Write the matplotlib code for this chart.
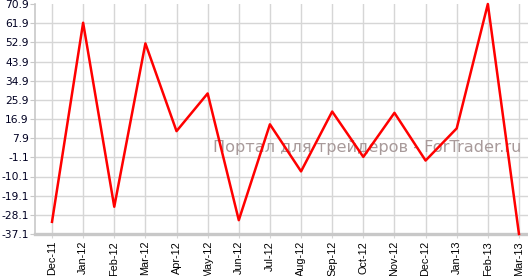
import matplotlib
matplotlib.use("Agg")
import matplotlib.pyplot as plt

categories = ["Dec-11", "Jan-12", "Feb-12", "Mar-12", "Apr-12", "May-12", "Jun-12",
              "Jul-12", "Aug-12", "Sep-12", "Oct-12", "Nov-12", "Dec-12", "Jan-13",
              "Feb-13", "Mar-13"]
values = [-31.4, 62.1, -24.3, 52.4, 11.2, 28.9, -30.6, 14.4, -7.7, 20.4, -0.9,
          19.8, -2.6, 12.5, 70.9, -37.1]
y_ticks = [-37.1, -28.1, -19.1, -10.1, -1.1, 7.9, 16.9, 25.9, 34.9, 43.9, 52.9, 61.9, 70.9]
watermark = "Портал для трейдеров - ForTrader.ru"

fig = plt.figure(figsize=(5.28, 2.76), dpi=100)
ax = fig.add_axes([35/528, (276-234)/276, 1-35/528, 230/276])

x = list(range(len(categories)))
ax.plot(x, values, color="#ff0000", lw=1.8, clip_on=False, zorder=3)

ax.set_xlim(-0.546, 15.29)
ax.set_ylim(-37.1, 70.9)
ax.set_yticks(y_ticks)
ax.set_yticklabels([f"{v:.1f}" for v in y_ticks], fontsize=7.7, color="#000022",
                   family="DejaVu Sans")
ax.set_xticks(x)
ax.set_xticklabels(categories, rotation=90, fontsize=7.8, family="Liberation Sans")

ax.grid(True, color="#d6d6d6", lw=1.0, zorder=0)
ax.get_ygridlines()[-1].set_visible(False)
ax.get_ygridlines()[0].set_visible(False)
for s in ["top", "right"]:
    ax.spines[s].set_visible(False)
ax.spines["left"].set_color("#c8c8c8")
ax.spines["left"].set_linewidth(1.2)
ax.spines["bottom"].set_color("#c8c8c8")
ax.spines["bottom"].set_linewidth(2.4)
ax.tick_params(axis="y", length=3.5, color="#c8c8c8", pad=1)
ax.tick_params(axis="x", length=3, color="#d6d6d6", pad=2)

ax.text(0.986, 0.378, watermark, transform=ax.transAxes, ha="right", va="center",
        fontsize=11.6, color="#a89a9a", family="DejaVu Sans", zorder=2)

fig.savefig("out.png", dpi=100)
